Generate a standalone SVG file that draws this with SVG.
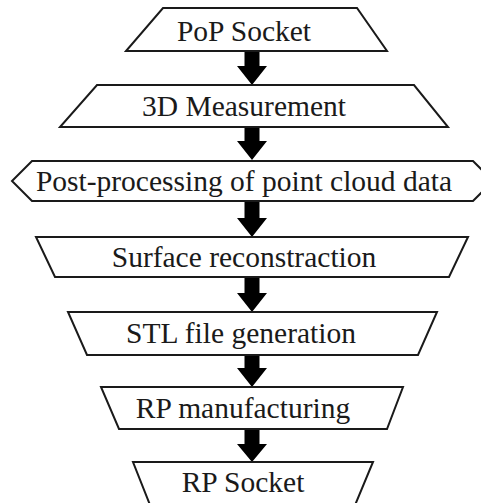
<svg xmlns="http://www.w3.org/2000/svg" width="481" height="503" viewBox="0 0 481 503">
<style>
.box{fill:#fff;stroke:#1a1a1a;stroke-width:2;stroke-linejoin:miter}
.lbl{font-family:"Liberation Serif","Times New Roman",serif;font-size:29.5px;fill:#1a1a1a;text-anchor:middle}
.arr{fill:#000;stroke:none}
</style>
<rect width="481" height="503" fill="#fff"/>
<g id="connectors">
<polygon class="arr" points="244.5,51 259.5,51 259.5,66 267,66 252,85 237,66 244.5,66"/>
<polygon class="arr" points="244.5,127 259.5,127 259.5,141 267,141 252,160 237,141 244.5,141"/>
<polygon class="arr" points="244.5,201 259.5,201 259.5,218 267,218 252,237 237,218 244.5,218"/>
<polygon class="arr" points="244.5,277 259.5,277 259.5,293 267,293 252,312 237,293 244.5,293"/>
<polygon class="arr" points="244.5,355 259.5,355 259.5,368 267,368 252,387 237,368 244.5,368"/>
<polygon class="arr" points="244.5,429 259.5,429 259.5,444 267,444 252,462 237,444 244.5,444"/>
</g>
<g id="pop-socket">
<polygon class="box" points="163,8 357,8 387,51 126,51"/>
<text class="lbl" x="244" y="41">PoP Socket</text>
</g>
<g id="measurement">
<polygon class="box" points="97,85 414,85 448,127 60,127"/>
<text class="lbl" x="244" y="116">3D Measurement</text>
</g>
<g id="post-processing">
<polygon class="box" points="32,161 473,161 493,181 473,201 32,201 12,181"/>
<text class="lbl" x="244" y="191">Post-processing of point cloud data</text>
</g>
<g id="surface">
<polygon class="box" points="36,237 468,237 449,277 55,277"/>
<text class="lbl" x="244" y="267">Surface reconstraction</text>
</g>
<g id="stl">
<polygon class="box" points="68,312 437,312 418,355 87,355"/>
<text class="lbl" x="241" y="343">STL file generation</text>
</g>
<g id="rp-manufacturing">
<polygon class="box" points="101,387 403,387 387,429 119,429"/>
<text class="lbl" x="243" y="418">RP manufacturing</text>
</g>
<g id="rp-socket">
<polygon class="box" points="133,462 373,462 353,510 152,510"/>
<text class="lbl" x="243" y="492">RP Socket</text>
</g>
</svg>
